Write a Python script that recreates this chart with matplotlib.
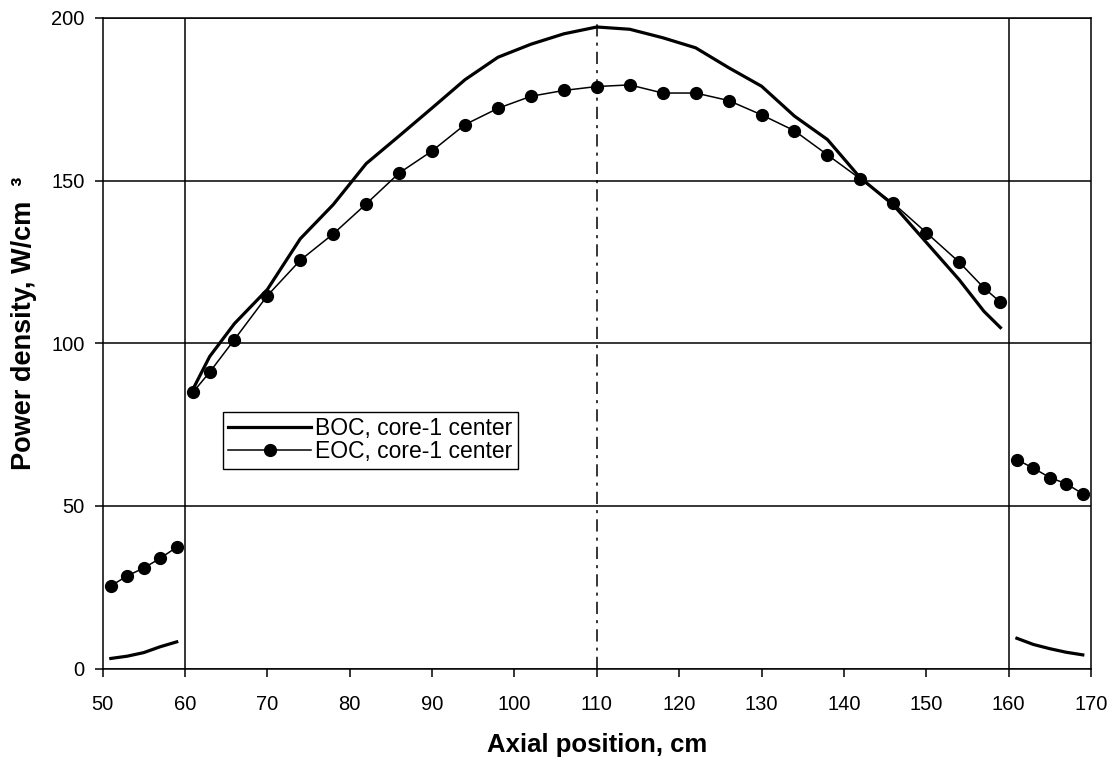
import matplotlib
matplotlib.use("Agg")
import matplotlib.pyplot as plt

# left blanket region
x_left = [51, 53, 55, 57, 59]
boc_left = [3.1, 3.8, 4.9, 6.7, 8.2]
eoc_left = [25.4, 28.5, 30.9, 33.9, 37.3]

# core region
x_core = [61, 63, 66, 70, 74, 78, 82, 86, 90, 94, 98, 102, 106, 110, 114,
          118, 122, 126, 130, 134, 138, 142, 146, 150, 154, 157, 159]
boc_core = [86.0, 95.9, 106.0, 116.5, 132.1, 142.6, 155.2, 163.7, 172.3,
            181.0, 187.9, 191.9, 195.1, 197.2, 196.5, 193.9, 190.8, 184.7,
            179.0, 169.8, 162.6, 150.8, 142.5, 131.0, 119.5, 109.8, 104.8]
eoc_core = [85.0, 91.1, 101.1, 114.6, 125.5, 133.6, 142.8, 152.3, 159.1,
            167.2, 172.2, 175.9, 177.7, 178.9, 179.4, 176.9, 176.9, 174.6,
            170.2, 165.3, 157.9, 150.5, 143.0, 134.0, 124.9, 117.0, 112.6]

# right blanket region
x_right = [161, 163, 165, 167, 169]
boc_right = [9.3, 7.4, 6.1, 5.0, 4.2]
eoc_right = [64.2, 61.6, 58.7, 56.8, 53.7]

plt.rcParams["font.family"] = ["Liberation Sans", "DejaVu Sans"]

fig = plt.figure(figsize=(11.15, 7.61), dpi=100)
ax = fig.add_axes([0.092, 0.1215, 0.8865, 0.855])

boc_style = dict(color="black", linewidth=2.3)
eoc_style = dict(color="black", linewidth=1.1, marker="o", markersize=8.5)

for xs, boc, eoc in [(x_left, boc_left, eoc_left),
                     (x_core, boc_core, eoc_core),
                     (x_right, boc_right, eoc_right)]:
    ax.plot(xs, boc, **boc_style)
    ax.plot(xs, eoc, **eoc_style)

# labels for legend only once
ax.lines[0].set_label("BOC, core-1 center")
ax.lines[1].set_label("EOC, core-1 center")

# core boundaries and mid-plane
ax.axvline(60, color="black", linewidth=1.1, zorder=1)
ax.axvline(160, color="black", linewidth=1.1, zorder=1)
ax.axvline(110, color="black", linewidth=1.1, linestyle=(0, (8, 4, 2, 4)), zorder=1)

ax.set_xlim(50, 170)
ax.set_ylim(0, 200)
ax.set_xticks(range(50, 171, 10))
ax.set_yticks(range(0, 201, 50))
ax.yaxis.grid(True, color="black", linewidth=1.1)
ax.set_axisbelow(True)
for s in ax.spines.values():
    s.set_linewidth(1.1)
ax.tick_params(direction="out", length=6, width=1.1, labelsize=14.5)
ax.tick_params(axis="x", pad=13)
ax.tick_params(axis="y", pad=7)

ax.set_xlabel("Axial position, cm", fontsize=18.5, fontweight="bold", labelpad=14)
ax.set_ylabel("Power density, W/cm  \u00b3", fontsize=19.5, fontweight="bold")
ax.yaxis.set_label_coords(-0.066, 0.53)

leg = ax.legend(loc="upper left", bbox_to_anchor=(0.1215, 0.395), fontsize=16.5,
                frameon=True, fancybox=False, edgecolor="black", framealpha=1,
                handlelength=3.6, handletextpad=0.2, labelspacing=0.0,
                borderpad=0.25, borderaxespad=0)
leg.get_frame().set_linewidth(1.0)

fig.savefig("out.png", dpi=100)
